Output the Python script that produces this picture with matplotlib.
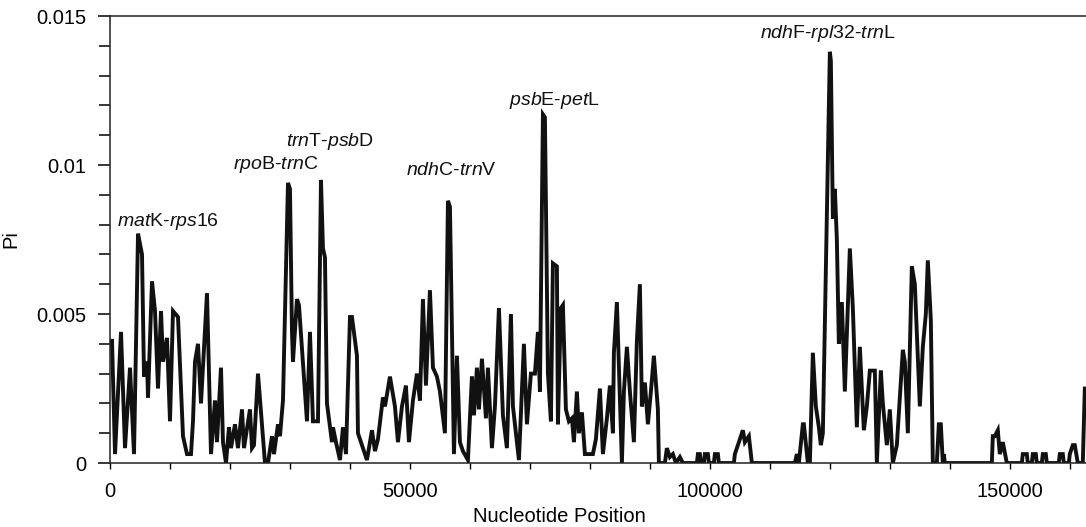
import matplotlib
matplotlib.use("Agg")
import matplotlib.pyplot as plt
from matplotlib.ticker import MultipleLocator

plt.rcParams['font.family'] = ['Liberation Sans', 'DejaVu Sans']
plt.rcParams['mathtext.fontset'] = 'custom'
plt.rcParams['mathtext.rm'] = 'Liberation Sans'
plt.rcParams['mathtext.it'] = 'Liberation Sans:italic'

# Nucleotide position (midpoint of sliding window) and nucleotide diversity
position = [
    333, 833, 1833, 2500, 3333, 4000, 4667, 5333, 5667, 6167, 6333, 7000, 7500, 8000,
    8500, 8833, 9500, 10000, 10500, 11333, 12167, 12833, 13500, 13833, 14167, 14667,
    15167, 16167, 16833, 17500, 17833, 18500, 18833, 19333, 19833, 20167, 20833, 21333,
    22000, 22333, 23333, 23667, 24000, 24667, 25333, 25833, 26333, 27000, 27333, 28000,
    28333, 28833, 29667, 30000, 30333, 30500, 31167, 31500, 32833, 33333, 33833, 34667,
    35167, 35500, 35833, 36167, 37000, 37167, 37667, 38333, 38833, 39333, 40000, 40333,
    41167, 41333, 42167, 42833, 43667, 44167, 44667, 45500, 45833, 46667, 47500, 48000,
    48667, 49333, 49833, 50500, 51167, 51667, 52167, 52667, 53333, 53833, 54500, 55000,
    55833, 56333, 56667, 57333, 57833, 58333, 58833, 59667, 60333, 60667, 61167, 61500,
    62000, 62667, 63000, 63667, 64167, 64833, 65500, 66167, 66833, 67167, 67833, 68167,
    69000, 69500, 70167, 70833, 71333, 71667, 72167, 72500, 73000, 73500, 73833, 74500,
    74667, 75167, 75500, 76000, 76500, 77000, 77333, 77833, 78167, 78667, 79167, 80500,
    81000, 81667, 82167, 82833, 83333, 83833, 84000, 84500, 85333, 85667, 86167, 86667,
    87333, 87833, 88333, 88667, 89167, 89667, 90167, 90667, 91333, 91500, 92500, 92833,
    93333, 93833, 94333, 95000, 95500, 97833, 98000, 98333, 98500, 99000, 99167, 99667,
    99833, 100667, 100833, 101333, 101500, 104000, 104167, 104833, 105500, 105833,
    106500, 107000, 114167, 114500, 114833, 115500, 115667, 116333, 116667, 117167,
    117667, 118167, 118500, 118833, 120000, 120167, 120500, 120833, 121167, 121500,
    122000, 122500, 123333, 123833, 124500, 125000, 125667, 126167, 126667, 127500,
    127833, 128500, 128833, 129500, 130000, 130500, 131167, 131667, 132167, 132500,
    133000, 133667, 134167, 135000, 135500, 136000, 136333, 136833, 137167, 137833,
    138167, 138500, 138833, 139000, 139167, 147000, 147167, 147500, 148000, 148333,
    148833, 149500, 152000, 152167, 152833, 153000, 153667, 153833, 154333, 154500,
    155333, 155500, 156000, 156167, 158167, 158333, 158833, 159000, 159833, 160000,
    160500, 160833, 161333, 162167, 162500,
]
pi = [
    0.0041, 0.0003, 0.0044, 0.0005, 0.0032, 0.0003, 0.0077, 0.0070, 0.0029, 0.0034, 0.0022, 0.0061, 0.0051, 0.0025,
    0.0051, 0.0034, 0.0042, 0.0014, 0.0051, 0.0049, 0.0009, 0.0003, 0.0003, 0.0014, 0.0034, 0.0040,
    0.0020, 0.0057, 0.0003, 0.0021, 0.0007, 0.0032, 0.0007, 0.0000, 0.0012, 0.0005, 0.0013, 0.0005,
    0.0018, 0.0005, 0.0018, 0.0005, 0.0006, 0.0030, 0.0013, 0.0000, 0.0000, 0.0009, 0.0003, 0.0013,
    0.0009, 0.0021, 0.0094, 0.0092, 0.0044, 0.0034, 0.0055, 0.0053, 0.0014, 0.0044, 0.0014, 0.0014,
    0.0095, 0.0072, 0.0069, 0.0020, 0.0007, 0.0012, 0.0007, 0.0001, 0.0012, 0.0003, 0.0049, 0.0049,
    0.0036, 0.0010, 0.0005, 0.0001, 0.0011, 0.0004, 0.0008, 0.0022, 0.0019, 0.0029, 0.0019, 0.0007,
    0.0019, 0.0026, 0.0007, 0.0021, 0.0030, 0.0021, 0.0055, 0.0026, 0.0058, 0.0032, 0.0029, 0.0024,
    0.0010, 0.0088, 0.0086, 0.0003, 0.0036, 0.0007, 0.0004, 0.0001, 0.0029, 0.0016, 0.0032, 0.0018,
    0.0035, 0.0015, 0.0032, 0.0005, 0.0019, 0.0052, 0.0016, 0.0005, 0.0050, 0.0019, 0.0007, 0.0001,
    0.0040, 0.0013, 0.0030, 0.0030, 0.0044, 0.0024, 0.0117, 0.0116, 0.0030, 0.0014, 0.0067, 0.0066,
    0.0013, 0.0052, 0.0053, 0.0018, 0.0014, 0.0015, 0.0007, 0.0024, 0.0010, 0.0017, 0.0003, 0.0003,
    0.0008, 0.0025, 0.0003, 0.0015, 0.0026, 0.0010, 0.0037, 0.0054, 0.0000, 0.0024, 0.0039, 0.0024,
    0.0007, 0.0041, 0.0060, 0.0019, 0.0027, 0.0013, 0.0024, 0.0036, 0.0018, 0.0000, 0.0000, 0.0005,
    0.0002, 0.0003, 0.0000, 0.0002, 0.0000, 0.0000, 0.0003, 0.0003, 0.0000, 0.0000, 0.0003, 0.0003,
    0.0000, 0.0000, 0.0003, 0.0003, 0.0000, 0.0000, 0.0003, 0.0007, 0.0011, 0.0007,
    0.0009, 0.0000, 0.0000, 0.0003, 0.0000, 0.0013, 0.0013, 0.0000, 0.0000, 0.0037,
    0.0019, 0.0012, 0.0006, 0.0010, 0.0138, 0.0135, 0.0082, 0.0092, 0.0075, 0.0040,
    0.0054, 0.0024, 0.0072, 0.0052, 0.0012, 0.0039, 0.0011, 0.0019, 0.0031, 0.0031,
    0.0000, 0.0031, 0.0020, 0.0006, 0.0018, 0.0000, 0.0006, 0.0022, 0.0038, 0.0034,
    0.0010, 0.0066, 0.0060, 0.0019, 0.0039, 0.0050, 0.0068, 0.0048, 0.0000, 0.0000,
    0.0013, 0.0013, 0.0000, 0.0003, 0.0000, 0.0000, 0.0009, 0.0009, 0.0011, 0.0003,
    0.0007, 0.0000, 0.0000, 0.0003, 0.0003, 0.0000, 0.0000, 0.0003, 0.0003, 0.0000,
    0.0000, 0.0003, 0.0003, 0.0000, 0.0000, 0.0003, 0.0003, 0.0000, 0.0000, 0.0003,
    0.0006, 0.0006, 0.0000, 0.0000, 0.0025,
]

region_labels = [
    r'$\mathit{mat}$K-$\mathit{rps}$16',
    r'$\mathit{rpo}$B-$\mathit{trn}$C',
    r'$\mathit{trn}$T-$\mathit{psb}$D',
    r'$\mathit{ndh}$C-$\mathit{trn}$V',
    r'$\mathit{psb}$E-$\mathit{pet}$L',
    r'$\mathit{ndh}$F-$\mathit{rpl}$32-$\mathit{trn}$L',
]
label_x = [9667, 27667, 36667, 56833, 74000, 119667]
label_y = [0.00809, 0.01003, 0.0108, 0.00983, 0.01218, 0.0144]

fig = plt.figure(figsize=(10.86, 5.27), dpi=100)
ax = fig.add_axes([0.1013, 0.1214, 0.8987, 0.8482])

ax.plot(position, pi, color='#111111', lw=2.8, solid_joinstyle='miter')

for t, x, y in zip(region_labels, label_x, label_y):
    ax.text(x, y, t, fontsize=14, ha='center', va='center', color='#111111')

ax.set_xlim(0, 162700)
ax.set_ylim(0, 0.015)
ax.xaxis.set_major_locator(MultipleLocator(50000))
ax.xaxis.set_minor_locator(MultipleLocator(10000))
ax.yaxis.set_major_locator(MultipleLocator(0.005))
ax.yaxis.set_minor_locator(MultipleLocator(0.001))
ax.set_yticks([0, 0.005, 0.01, 0.015])
ax.set_yticklabels(['0', '0.005', '0.01', '0.015'])
ax.set_xticks([0, 50000, 100000, 150000])
ax.set_xticklabels(['0', '50000', '100000', '150000'])

ax.tick_params(axis='y', which='major', direction='out', length=9, width=1.1, labelsize=14.5, pad=8)
ax.tick_params(axis='y', which='minor', direction='out', length=8, width=1.1)
ax.tick_params(axis='x', which='both', direction='out', length=4.5, width=1.0, labelsize=14.5, pad=9)

for s in ['left', 'bottom', 'top']:
    ax.spines[s].set_linewidth(1.1)
    ax.spines[s].set_color('#222222')
ax.spines['right'].set_visible(False)

ax.set_ylabel('Pi', fontsize=14.5)
ax.yaxis.set_label_coords(-0.092, 0.5)
ax.set_xlabel('Nucleotide Position', fontsize=14.5, va='center', ha='left')
ax.xaxis.set_label_coords(0.372, -0.1186)

fig.savefig('out.png', dpi=100)
